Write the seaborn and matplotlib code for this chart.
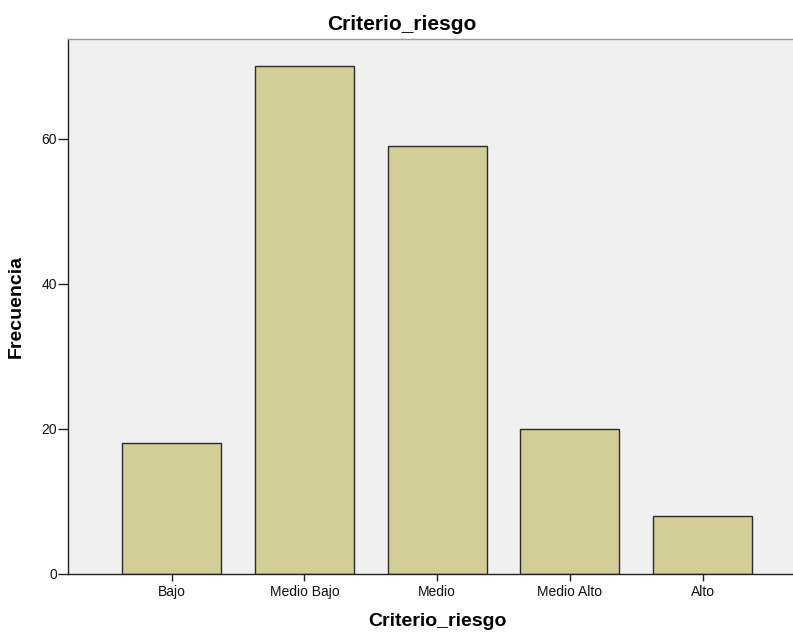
import matplotlib
matplotlib.use("Agg")
import matplotlib.pyplot as plt
import seaborn as sns
import pandas as pd

categorias = ["Bajo", "Medio Bajo", "Medio", "Medio Alto", "Alto"]
frecuencias = [18, 70, 59, 20, 8]
y_ticks = [0, 20, 40, 60]

df = pd.DataFrame({"Criterio_riesgo": categorias, "Frecuencia": frecuencias})

sns.set_style("white")
plt.rcParams['font.family'] = ['Liberation Sans', 'DejaVu Sans']
plt.rcParams['text.color'] = 'black'
plt.rcParams['axes.labelcolor'] = 'black'
plt.rcParams['xtick.color'] = 'black'
plt.rcParams['ytick.color'] = 'black'

fig = plt.figure(figsize=(7.93, 6.32), dpi=100)
ax = fig.add_axes([68 / 793, (632 - 573.5) / 632, 1 - 68 / 793, (573.5 - 38.5) / 632])
ax.set_facecolor("#F0F0F0")

sns.barplot(data=df, x="Criterio_riesgo", y="Frecuencia", order=categorias,
            color="#D3CE97", saturation=1, width=0.745,
            edgecolor="#2B2B2B", linewidth=1.0, ax=ax)

ax.set_xlim(-0.78, 4.68)
ax.set_ylim(0, 73.8)
ax.set_yticks(y_ticks)
ax.tick_params(axis="y", direction="out", length=7, width=1, color="#222222",
               labelsize=10, pad=1, labelcolor="#111111")
ax.tick_params(axis="x", direction="out", length=5, width=1, color="#222222",
               labelsize=10, pad=3, labelcolor="#111111")
ax.tick_params(left=True, bottom=True)

for s in ["left", "bottom"]:
    ax.spines[s].set_color("#222222")
    ax.spines[s].set_linewidth(1.0)
ax.spines["top"].set_color("#999999")
ax.spines["top"].set_linewidth(1.0)
ax.spines["right"].set_visible(False)

# title and x label are not centred on the plot area in the original
ax.set_title("Criterio_riesgo", fontsize=15, fontweight="bold", pad=6, x=0.461,
             color="black")
ax.set_xlabel("Criterio_riesgo", fontsize=14, fontweight="bold", labelpad=10)
ax.xaxis.label.set_x(0.509)
ax.set_ylabel("Frecuencia", fontsize=14, fontweight="bold", labelpad=12)

fig.savefig("out.png", dpi=100)
